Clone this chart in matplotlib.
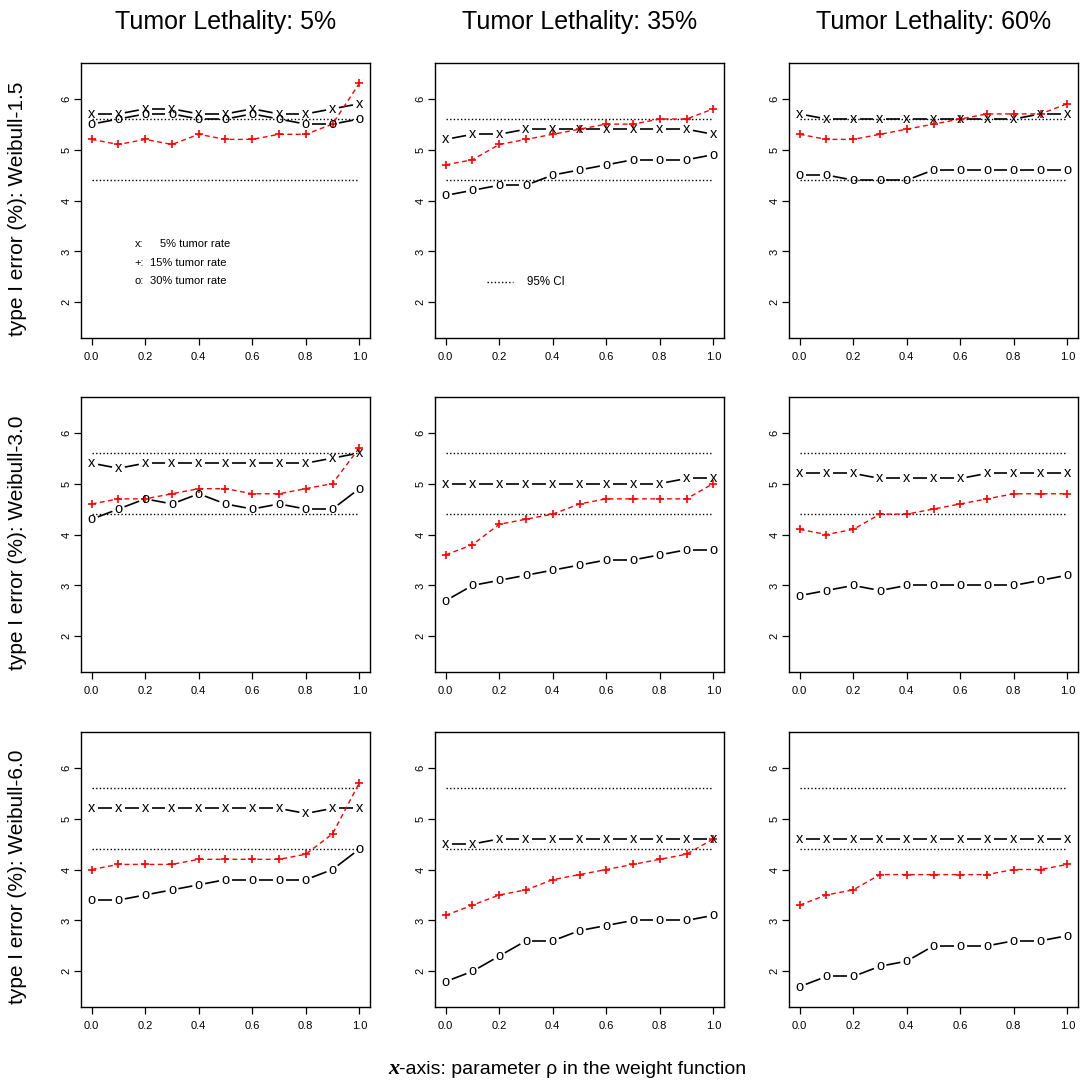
# type I error (%) vs rho in the weight function
# 3 x 3 grid: rows = Weibull shape, columns = tumor lethality
import numpy as np
import matplotlib
matplotlib.use('Agg')
import matplotlib.pyplot as plt

rho = [0.0, 0.1, 0.2, 0.3, 0.4, 0.5, 0.6, 0.7, 0.8, 0.9, 1.0]
lethality = ['5%', '35%', '60%']
weibull = ['1.5', '3.0', '6.0']

ci_low = 4.4
ci_high = 5.6

# 5% tumor rate ("x"), rows = Weibull-1.5 / 3.0 / 6.0, cols = lethality 5 / 35 / 60
tumor05 = [
    [[5.7, 5.7, 5.8, 5.8, 5.7, 5.7, 5.8, 5.7, 5.7, 5.8, 5.9],
     [5.2, 5.3, 5.3, 5.4, 5.4, 5.4, 5.4, 5.4, 5.4, 5.4, 5.3],
     [5.7, 5.6, 5.6, 5.6, 5.6, 5.6, 5.6, 5.6, 5.6, 5.7, 5.7]],
    [[5.4, 5.3, 5.4, 5.4, 5.4, 5.4, 5.4, 5.4, 5.4, 5.5, 5.6],
     [5.0, 5.0, 5.0, 5.0, 5.0, 5.0, 5.0, 5.0, 5.0, 5.1, 5.1],
     [5.2, 5.2, 5.2, 5.1, 5.1, 5.1, 5.1, 5.2, 5.2, 5.2, 5.2]],
    [[5.2, 5.2, 5.2, 5.2, 5.2, 5.2, 5.2, 5.2, 5.1, 5.2, 5.2],
     [4.5, 4.5, 4.6, 4.6, 4.6, 4.6, 4.6, 4.6, 4.6, 4.6, 4.6],
     [4.6, 4.6, 4.6, 4.6, 4.6, 4.6, 4.6, 4.6, 4.6, 4.6, 4.6]],
]

# 15% tumor rate ("+", red)
tumor15 = [
    [[5.2, 5.1, 5.2, 5.1, 5.3, 5.2, 5.2, 5.3, 5.3, 5.5, 6.3],
     [4.7, 4.8, 5.1, 5.2, 5.3, 5.4, 5.5, 5.5, 5.6, 5.6, 5.8],
     [5.3, 5.2, 5.2, 5.3, 5.4, 5.5, 5.6, 5.7, 5.7, 5.7, 5.9]],
    [[4.6, 4.7, 4.7, 4.8, 4.9, 4.9, 4.8, 4.8, 4.9, 5.0, 5.7],
     [3.6, 3.8, 4.2, 4.3, 4.4, 4.6, 4.7, 4.7, 4.7, 4.7, 5.0],
     [4.1, 4.0, 4.1, 4.4, 4.4, 4.5, 4.6, 4.7, 4.8, 4.8, 4.8]],
    [[4.0, 4.1, 4.1, 4.1, 4.2, 4.2, 4.2, 4.2, 4.3, 4.7, 5.7],
     [3.1, 3.3, 3.5, 3.6, 3.8, 3.9, 4.0, 4.1, 4.2, 4.3, 4.6],
     [3.3, 3.5, 3.6, 3.9, 3.9, 3.9, 3.9, 3.9, 4.0, 4.0, 4.1]],
]

# 30% tumor rate ("o")
tumor30 = [
    [[5.5, 5.6, 5.7, 5.7, 5.6, 5.6, 5.7, 5.6, 5.5, 5.5, 5.6],
     [4.1, 4.2, 4.3, 4.3, 4.5, 4.6, 4.7, 4.8, 4.8, 4.8, 4.9],
     [4.5, 4.5, 4.4, 4.4, 4.4, 4.6, 4.6, 4.6, 4.6, 4.6, 4.6]],
    [[4.3, 4.5, 4.7, 4.6, 4.8, 4.6, 4.5, 4.6, 4.5, 4.5, 4.9],
     [2.7, 3.0, 3.1, 3.2, 3.3, 3.4, 3.5, 3.5, 3.6, 3.7, 3.7],
     [2.8, 2.9, 3.0, 2.9, 3.0, 3.0, 3.0, 3.0, 3.0, 3.1, 3.2]],
    [[3.4, 3.4, 3.5, 3.6, 3.7, 3.8, 3.8, 3.8, 3.8, 4.0, 4.4],
     [1.8, 2.0, 2.3, 2.6, 2.6, 2.8, 2.9, 3.0, 3.0, 3.0, 3.1],
     [1.7, 1.9, 1.9, 2.1, 2.2, 2.5, 2.5, 2.5, 2.6, 2.6, 2.7]],
]

rate_labels = ['x:', '+:', 'o:']
rate_texts = ['5% tumor rate', '15% tumor rate', '30% tumor rate']

plt.rcParams['font.family'] = ['Liberation Sans', 'DejaVu Sans']

W, H = 1083, 1087
fig = plt.figure(figsize=(W / 100, H / 100), dpi=100)

col_left = [81, 435, 789]
row_top = [63, 397, 732]
ax_w, ax_h = 289, 275


def gapped_line(ax, xs, ys, gap=6.5):
    # R type="b": line segments that stop short of each point
    pts = ax.transData.transform(np.column_stack([xs, ys]))
    inv = ax.transData.inverted()
    for p, q in zip(pts[:-1], pts[1:]):
        d = q - p
        L = np.hypot(d[0], d[1])
        if L <= 2 * gap:
            continue
        u = d / L
        seg = inv.transform(np.array([p + u * gap, q - u * gap]))
        ax.plot(seg[:, 0], seg[:, 1], color='black', lw=1.2, solid_capstyle='butt')


for r in range(3):
    for c in range(3):
        ax = fig.add_axes([col_left[c] / W, 1 - (row_top[r] + ax_h) / H, ax_w / W, ax_h / H])
        ax.set_xlim(-0.04, 1.04)
        ax.set_ylim(1.3, 6.7)
        ax.set_xticks([0.0, 0.2, 0.4, 0.6, 0.8, 1.0])
        ax.set_yticks([2, 3, 4, 5, 6])
        ax.set_xticklabels(['0.0', '0.2', '0.4', '0.6', '0.8', '1.0'])
        ax.set_yticklabels(['2', '3', '4', '5', '6'], rotation=90, va='center')
        ax.tick_params(length=5, width=0.9, labelsize=8, direction='out')
        ax.tick_params(axis='x', pad=5)
        ax.tick_params(axis='y', pad=2)
        for s in ax.spines.values():
            s.set_linewidth(1.0)

        # 95% CI bounds
        ax.plot([rho[0], rho[-1]], [ci_low, ci_low], color='black', lw=1, ls=(0, (1, 1.6)))
        ax.plot([rho[0], rho[-1]], [ci_high, ci_high], color='black', lw=1, ls=(0, (1, 1.6)))

        y05 = tumor05[r][c]
        y15 = tumor15[r][c]
        y30 = tumor30[r][c]

        gapped_line(ax, rho, y05)
        gapped_line(ax, rho, y30)
        for xv, yv in zip(rho, y05):
            ax.text(xv, yv, 'x', ha='center', va='center', fontsize=10.5)
        for xv, yv in zip(rho, y30):
            ax.text(xv, yv, 'o', ha='center', va='center', fontsize=10.5)

        ax.plot(rho, y15, color='red', lw=1, ls=(0, (3.5, 2.5)),
                marker='+', ms=6, mew=1.2)

        if r == 0 and c == 0:
            desc_x = [0.255, 0.218, 0.218]
            for i in range(3):
                ax.text(0.16, 3.15 - 0.37 * i, rate_labels[i], ha='left', va='center', fontsize=8)
                ax.text(desc_x[i], 3.15 - 0.37 * i, rate_texts[i], ha='left', va='center', fontsize=8)
        if r == 0 and c == 1:
            ax.plot([0.154, 0.251], [2.4, 2.4], color='black', lw=1, ls=(0, (1, 1.6)))
            ax.text(0.304, 2.4, '95% CI', ha='left', va='center', fontsize=8.3)

# column titles
for c in range(3):
    fig.text((col_left[c] + ax_w / 2) / W, 1 - 22 / H, 'Tumor Lethality: ' + lethality[c],
             ha='center', va='center', fontsize=18)

# row labels
row_mid = [209, 543, 877]
for r in range(3):
    fig.text(18 / W, 1 - row_mid[r] / H, 'type I error (%): Weibull-' + weibull[r],
             ha='center', va='center', rotation=90, fontsize=15)

# bottom axis label
fig.text(399 / W, 1 - 1069 / H, 'x', ha='right', va='center', fontsize=16,
         family='Liberation Serif', fontweight='bold', fontstyle='italic')
fig.text(399 / W, 1 - 1069 / H, '-axis: parameter \u03c1 in the weight function',
         ha='left', va='center', fontsize=14)

fig.savefig('out.png', dpi=100)
